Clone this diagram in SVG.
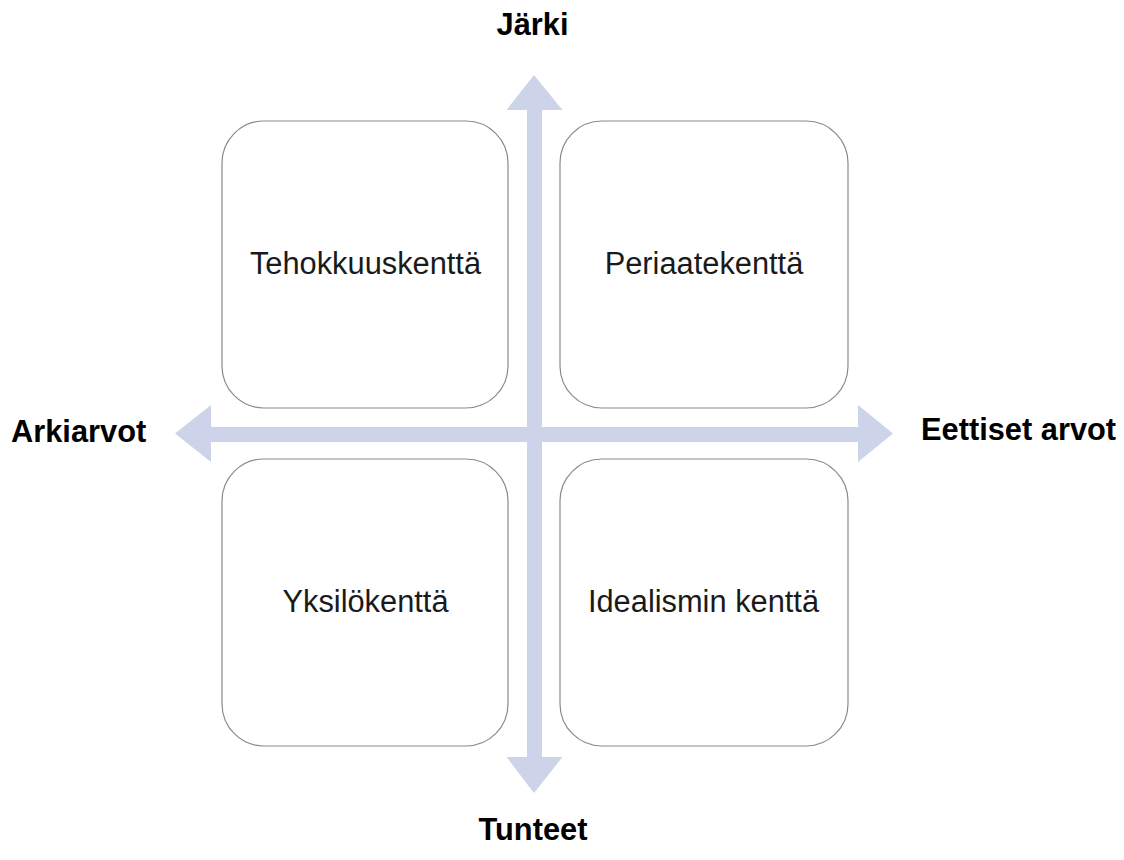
<svg xmlns="http://www.w3.org/2000/svg" width="1124" height="860" viewBox="0 0 1124 860">
<style>
.box{fill:#fff;stroke:#8a8a8a;stroke-width:1.2}
.t{font-family:"Liberation Sans",Arial,sans-serif;font-size:30.8px;fill:#1a1a1a;text-anchor:middle}
.b{font-family:"Liberation Sans",Arial,sans-serif;font-size:30.8px;font-weight:bold;fill:#000}
.ax{fill:#cdd4ea}
</style>
<rect width="1124" height="860" fill="#fff"/>
<g id="n1"><rect class="box" x="222" y="121" width="286" height="287" rx="42"/><text class="t" x="365.5" y="274">Tehokkuuskenttä</text></g>
<g id="n2"><rect class="box" x="560" y="121" width="288" height="287" rx="42"/><text class="t" x="704" y="274">Periaatekenttä</text></g>
<g id="n3"><rect class="box" x="222" y="459" width="286" height="287" rx="42"/><text class="t" x="365.5" y="612">Yksilökenttä</text></g>
<g id="n4"><rect class="box" x="560" y="459" width="288" height="287" rx="42"/><text class="t" x="703.5" y="612">Idealismin kenttä</text></g>
<g id="connectors">
<polygon class="ax" points="534,75 562.5,110 542,110 542,427 858,427 858,405 893,433.5 858,462 858,442 542,442 542,757 562.5,757 534,793 506.5,757 527,757 527,442 211,442 211,462 175,433.5 211,405 211,427 527,427 527,110 506.5,110"/>
</g>
<text class="b" x="532.5" y="35" text-anchor="middle">Järki</text>
<text class="b" x="533" y="840" text-anchor="middle">Tunteet</text>
<text class="b" x="11" y="442">Arkiarvot</text>
<text class="b" x="921" y="440">Eettiset arvot</text>
</svg>
